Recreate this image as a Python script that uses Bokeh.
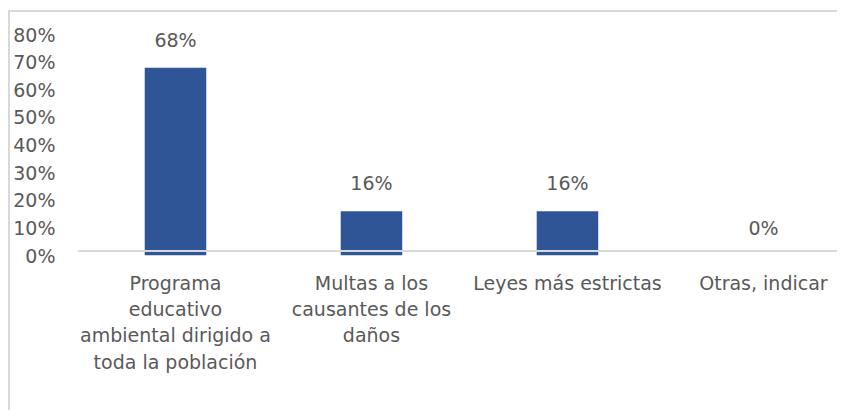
from bokeh.plotting import figure
from bokeh.models import Range1d, FixedTicker, NumeralTickFormatter, ColumnDataSource, Span, LabelSet
from bokeh.core.properties import value
from bokeh.embed import file_html
from bokeh.resources import INLINE

categories = ["Programa\neducativo\nambiental dirigido a\ntoda la población",
              "Multas a los\ncausantes de los\ndaños",
              "Leyes más estrictas",
              "Otras, indicar"]
values = [0.68, 0.16, 0.16, 0.0]
value_labels = ["68%", "16%", "16%", "0%"]
y_ticks = [0.0, 0.1, 0.2, 0.3, 0.4, 0.5, 0.6, 0.7, 0.8]

FONT = "DejaVu Sans"
FS = "19px"
TXT = "#595959"
GRAYLINE = "#D9D9D9"
BAR = "#2F5597"

xpos = [i + 0.5 for i in range(len(categories))]
src = ColumnDataSource(dict(x=xpos, top=values, lab=value_labels))

p = figure(width=829, height=400, output_backend="svg", toolbar_location=None,
           x_range=Range1d(0, 3.888), y_range=Range1d(0, 0.851),
           min_border_left=67, min_border_right=0, min_border_top=8, min_border_bottom=157)
# chart-area border (only top and left edges visible in the original crop)
p.styles = {"margin-left": "8px", "margin-top": "10px",
            "border-left": "2px solid #D9D9D9", "border-top": "2px solid #D9D9D9"}
p.outline_line_color = None
p.xgrid.visible = False
p.ygrid.visible = False
p.background_fill_color = "white"
p.border_fill_color = "white"

p.vbar(x="x", top="top", bottom=0, width=0.314, source=src, fill_color=BAR, line_color=None)

# category axis line drawn slightly above the bar base (as in the original)
p.add_layout(Span(location=0.0165, dimension="width", line_color=GRAYLINE, line_width=2, level="overlay"))

labels = LabelSet(x="x", y="top", text="lab", source=src, y_offset=28,
                  text_align="center", text_baseline="middle",
                  text_font=value(FONT), text_font_size=value(FS), text_color=TXT)
p.add_layout(labels)

for ax in (p.xaxis, p.yaxis):
    ax.axis_line_color = None
    ax.major_tick_line_color = None
    ax.minor_tick_line_color = None
    ax.major_tick_out = 0
    ax.major_tick_in = 0
    ax.minor_tick_out = 0
    ax.minor_tick_in = 0
    ax.major_label_text_font = FONT
    ax.major_label_text_font_size = FS
    ax.major_label_text_color = TXT

p.xaxis.ticker = FixedTicker(ticks=xpos)
p.xaxis.major_label_overrides = {x: c for x, c in zip(xpos, categories)}
p.xaxis.major_label_standoff = 16

p.yaxis.ticker = FixedTicker(ticks=y_ticks)
p.yaxis.formatter = NumeralTickFormatter(format="0%")
p.yaxis.major_label_standoff = 22

open("out.html", "w").write(file_html(p, INLINE))
